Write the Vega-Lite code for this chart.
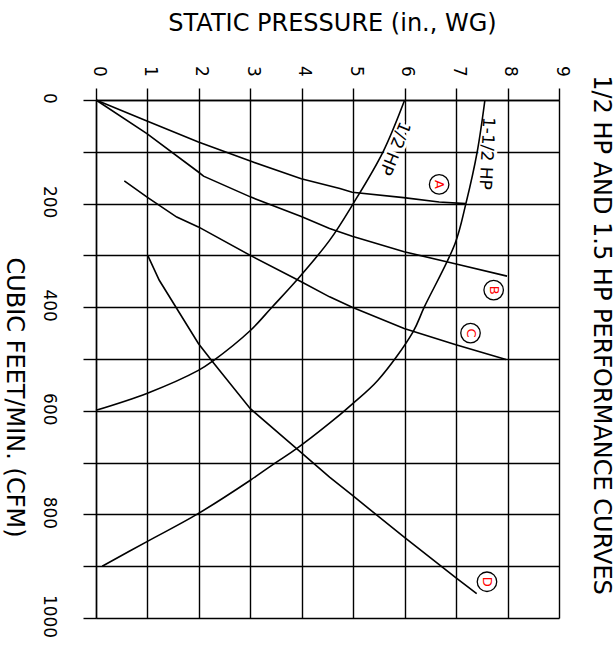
{
  "$schema": "https://vega.github.io/schema/vega-lite/v6.json",
  "width": 463,
  "height": 518,
  "autosize": {"type": "none"},
  "padding": {"left": 96, "top": 100, "right": 56, "bottom": 28},
  "background": "white",
  "title": {
    "text": "1/2 HP AND 1.5 HP PERFORMANCE CURVES",
    "orient": "right",
    "angle": 90,
    "anchor": "middle",
    "baseline": "alphabetic",
    "offset": 0,
    "dx": -24,
    "font": "DejaVu Sans",
    "fontSize": 24,
    "fontWeight": "normal",
    "color": "#000"
  },
  "config": {"view": {"stroke": null}},
  "datasets": {
    "curves": [
      {"series": "1/2 HP", "p": 6.0, "cfm": 0},
      {"series": "1/2 HP", "p": 5.58, "cfm": 100},
      {"series": "1/2 HP", "p": 5.0, "cfm": 200},
      {"series": "1/2 HP", "p": 4.54, "cfm": 271},
      {"series": "1/2 HP", "p": 3.9, "cfm": 348},
      {"series": "1/2 HP", "p": 3.42, "cfm": 400},
      {"series": "1/2 HP", "p": 3.0, "cfm": 445},
      {"series": "1/2 HP", "p": 2.27, "cfm": 504},
      {"series": "1/2 HP", "p": 1.99, "cfm": 522},
      {"series": "1/2 HP", "p": 1.0, "cfm": 566},
      {"series": "1/2 HP", "p": 0, "cfm": 599},
      {"series": "1-1/2 HP", "p": 7.56, "cfm": 0},
      {"series": "1-1/2 HP", "p": 7.41, "cfm": 100},
      {"series": "1-1/2 HP", "p": 7.19, "cfm": 200},
      {"series": "1-1/2 HP", "p": 6.98, "cfm": 277},
      {"series": "1-1/2 HP", "p": 6.38, "cfm": 400},
      {"series": "1-1/2 HP", "p": 6.16, "cfm": 448},
      {"series": "1-1/2 HP", "p": 5.48, "cfm": 541},
      {"series": "1-1/2 HP", "p": 4.98, "cfm": 587},
      {"series": "1-1/2 HP", "p": 4.54, "cfm": 624},
      {"series": "1-1/2 HP", "p": 3.9, "cfm": 673},
      {"series": "1-1/2 HP", "p": 3.48, "cfm": 701},
      {"series": "1-1/2 HP", "p": 3.0, "cfm": 734},
      {"series": "1-1/2 HP", "p": 1.96, "cfm": 800},
      {"series": "1-1/2 HP", "p": 1.0, "cfm": 852},
      {"series": "1-1/2 HP", "p": 0.12, "cfm": 900}
    ],
    "systems": [
      {"series": "A", "p": 0, "cfm": 0},
      {"series": "A", "p": 0.99, "cfm": 40.5},
      {"series": "A", "p": 1.99, "cfm": 81},
      {"series": "A", "p": 3.0, "cfm": 118},
      {"series": "A", "p": 3.99, "cfm": 152},
      {"series": "A", "p": 4.74, "cfm": 171},
      {"series": "A", "p": 4.98, "cfm": 178},
      {"series": "A", "p": 5.98, "cfm": 188.5},
      {"series": "A", "p": 6.67, "cfm": 197},
      {"series": "A", "p": 7.19, "cfm": 200},
      {"series": "B", "p": 0, "cfm": 0},
      {"series": "B", "p": 0.99, "cfm": 65},
      {"series": "B", "p": 1.99, "cfm": 139},
      {"series": "B", "p": 2.09, "cfm": 147},
      {"series": "B", "p": 3.0, "cfm": 187},
      {"series": "B", "p": 3.99, "cfm": 225},
      {"series": "B", "p": 4.54, "cfm": 248},
      {"series": "B", "p": 4.98, "cfm": 263},
      {"series": "B", "p": 5.99, "cfm": 293},
      {"series": "B", "p": 6.98, "cfm": 316},
      {"series": "B", "p": 7.99, "cfm": 340},
      {"series": "C", "p": 0.55, "cfm": 156},
      {"series": "C", "p": 1.0, "cfm": 188},
      {"series": "C", "p": 1.57, "cfm": 226},
      {"series": "C", "p": 1.99, "cfm": 245},
      {"series": "C", "p": 3.0, "cfm": 300},
      {"series": "C", "p": 3.99, "cfm": 351},
      {"series": "C", "p": 4.54, "cfm": 380},
      {"series": "C", "p": 4.98, "cfm": 400},
      {"series": "C", "p": 5.99, "cfm": 441},
      {"series": "C", "p": 6.98, "cfm": 472},
      {"series": "C", "p": 7.97, "cfm": 501},
      {"series": "D", "p": 1.01, "cfm": 301},
      {"series": "D", "p": 1.23, "cfm": 348},
      {"series": "D", "p": 1.99, "cfm": 470},
      {"series": "D", "p": 2.27, "cfm": 506},
      {"series": "D", "p": 3.0, "cfm": 596},
      {"series": "D", "p": 3.9, "cfm": 673},
      {"series": "D", "p": 4.54, "cfm": 728},
      {"series": "D", "p": 4.98, "cfm": 763},
      {"series": "D", "p": 5.99, "cfm": 844},
      {"series": "D", "p": 6.98, "cfm": 921},
      {"series": "D", "p": 7.4, "cfm": 953}
    ],
    "markers": [
      {"letter": "A", "p": 6.67, "cfm": 163},
      {"letter": "B", "p": 7.73, "cfm": 367},
      {"letter": "C", "p": 7.28, "cfm": 450},
      {"letter": "D", "p": 7.6, "cfm": 930}
    ],
    "labels": [
      {"text": "1/2 HP", "p": 5.8, "cfm": 93},
      {"text": "1-1/2 HP", "p": 7.59, "cfm": 103}
    ]
  },
  "encoding": {
    "x": {
      "field": "p",
      "type": "quantitative",
      "scale": {"domain": [0, 9], "nice": false, "zero": false},
      "axis": {
        "orient": "top",
        "values": [0, 1, 2, 3, 4, 5, 6, 7, 8, 9],
        "grid": true,
        "gridColor": "#000",
        "gridWidth": 1.4,
        "gridOpacity": 1,
        "domain": true,
        "domainColor": "#000",
        "domainWidth": 1.4,
        "ticks": true,
        "tickSize": 12,
        "tickColor": "#000",
        "tickWidth": 1.4,
        "labelAngle": 90,
        "labelAlign": "center",
        "labelBaseline": "alphabetic",
        "labelPadding": 17,
        "labelOffset": -3,
        "labelFont": "DejaVu Sans",
        "labelFontSize": 17,
        "labelColor": "#000",
        "labelOverlap": false,
        "labelFlush": false,
        "labelBound": false,
        "title": "STATIC PRESSURE (in., WG)",
        "titleFont": "DejaVu Sans",
        "titleFontSize": 24,
        "titleFontWeight": "normal",
        "titleColor": "#000",
        "titleAngle": 0,
        "titleX": 236,
        "titleY": -70,
        "titleAlign": "center",
        "titleBaseline": "alphabetic"
      }
    },
    "y": {
      "field": "cfm",
      "type": "quantitative",
      "scale": {"domain": [0, 1000], "nice": false, "zero": false, "reverse": true},
      "axis": {
        "orient": "left",
        "values": [0, 100, 200, 300, 400, 500, 600, 700, 800, 900, 1000],
        "format": "d",
        "labelExpr": "datum.value % 200 === 0 ? datum.label : ''",
        "grid": true,
        "gridColor": "#000",
        "gridWidth": 1.4,
        "gridOpacity": 1,
        "domain": true,
        "domainColor": "#000",
        "domainWidth": 1.4,
        "ticks": true,
        "tickSize": 13,
        "tickColor": "#000",
        "tickWidth": 1.4,
        "labelAngle": 90,
        "labelAlign": "center",
        "labelBaseline": "alphabetic",
        "labelPadding": 40,
        "labelOffset": -2,
        "labelFont": "DejaVu Sans",
        "labelFontSize": 17,
        "labelColor": "#000",
        "labelOverlap": false,
        "labelFlush": false,
        "labelBound": false,
        "title": "CUBIC FEET/MIN. (CFM)",
        "titleFont": "DejaVu Sans",
        "titleFontSize": 24,
        "titleFontWeight": "normal",
        "titleColor": "#000",
        "titleAngle": 90,
        "titleX": -90,
        "titleY": 297,
        "titleAlign": "center",
        "titleBaseline": "alphabetic"
      }
    }
  },
  "layer": [
    {
      "data": {"name": "labels"},
      "transform": [{"filter": "datum.text === '1/2 HP'"}],
      "mark": {"type": "text", "angle": 112, "align": "center", "baseline": "middle", "font": "DejaVu Sans", "fontSize": 17, "fill": "white", "stroke": "white", "strokeWidth": 6},
      "encoding": {"text": {"field": "text"}}
    },
    {
      "data": {"name": "labels"},
      "transform": [{"filter": "datum.text === '1-1/2 HP'"}],
      "mark": {"type": "text", "angle": 93, "align": "center", "baseline": "middle", "font": "DejaVu Sans", "fontSize": 17, "fill": "white", "stroke": "white", "strokeWidth": 6},
      "encoding": {"text": {"field": "text"}}
    },
    {
      "data": {"name": "curves"},
      "mark": {"type": "line", "interpolate": "catmull-rom", "color": "#000", "strokeWidth": 1.6},
      "encoding": {"detail": {"field": "series"}, "order": {"value": null}}
    },
    {
      "data": {"name": "systems"},
      "mark": {"type": "line", "interpolate": "linear", "color": "#000", "strokeWidth": 1.6},
      "encoding": {"detail": {"field": "series"}, "order": {"value": null}}
    },
    {
      "data": {"name": "markers"},
      "mark": {"type": "point", "shape": "circle", "size": 380, "filled": false, "stroke": "#000", "strokeWidth": 1.3, "opacity": 1},
      "encoding": {}
    },
    {
      "data": {"name": "markers"},
      "mark": {"type": "text", "angle": 90, "align": "center", "baseline": "middle", "font": "DejaVu Sans", "fontSize": 13, "color": "#ff0000"},
      "encoding": {"text": {"field": "letter"}}
    },
    {
      "data": {"name": "labels"},
      "transform": [{"filter": "datum.text === '1/2 HP'"}],
      "mark": {"type": "text", "angle": 112, "align": "center", "baseline": "middle", "font": "DejaVu Sans", "fontSize": 17, "color": "#000"},
      "encoding": {"text": {"field": "text"}}
    },
    {
      "data": {"name": "labels"},
      "transform": [{"filter": "datum.text === '1-1/2 HP'"}],
      "mark": {"type": "text", "angle": 93, "align": "center", "baseline": "middle", "font": "DejaVu Sans", "fontSize": 17, "color": "#000"},
      "encoding": {"text": {"field": "text"}}
    }
  ]
}
